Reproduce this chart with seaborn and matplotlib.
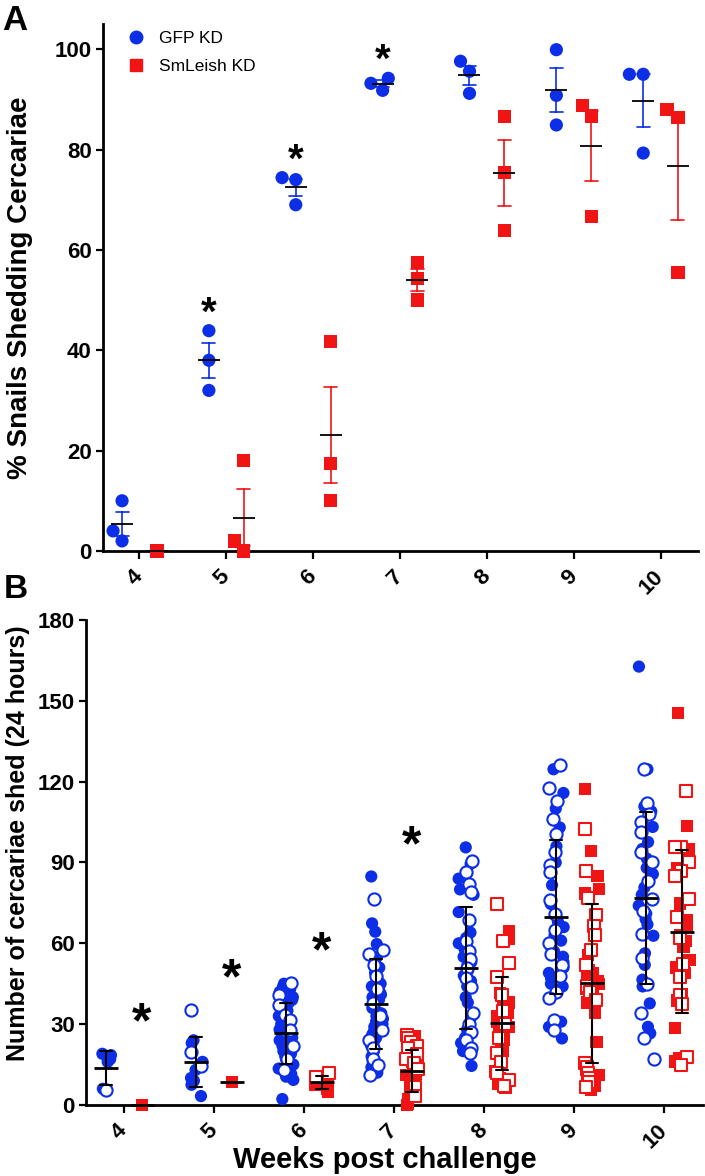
import numpy as np
import pandas as pd
import matplotlib
matplotlib.use("Agg")
import matplotlib.pyplot as plt
from matplotlib.lines import Line2D
import seaborn as sns

WEEKS = [4, 5, 6, 7, 8, 9, 10]
GROUPS = ["GFP KD", "SmLeish KD"]
COLORS = {"GFP KD": "#0b2ee6", "SmLeish KD": "#f01414"}
MARKERS = {"GFP KD": "o", "SmLeish KD": "s"}

# --- panel A: % snails shedding cercariae (3 replicate tanks per week) ------
A_GFP = {4: [10.0, 4.0, 2.0], 5: [43.9, 38.0, 32.0], 6: [74.4, 74.0, 69.0],
         7: [94.2, 93.2, 91.8], 8: [97.6, 95.6, 91.2], 9: [99.9, 90.8, 84.9],
         10: [95.0, 95.0, 79.3]}
A_KD = {4: [0.0], 5: [18.0, 2.0, 0.0], 6: [41.7, 17.4, 10.1],
        7: [57.5, 54.3, 50.0], 8: [86.6, 75.4, 63.8], 9: [88.8, 86.7, 66.7],
        10: [88.0, 86.4, 55.5]}
A_STARS = [5, 6, 7]

# --- panel B: cercariae per snail (filled / open = two experiments) ---------
B_GFP_FILLED = {
    4: [19.0, 18.5, 17.0, 16.0, 6.0],
    5: [24.0, 23.0, 16.0, 13.0, 10.0, 9.0, 7.5, 3.3],
    6: [45, 44, 43, 42, 41, 40, 39, 38, 36, 35, 33, 32, 31, 30, 29, 28, 27, 26,
        25, 24, 23, 22, 21, 20, 19, 18, 17, 16, 15, 14, 13.5, 12.5, 11.5, 10.5,
        9.3, 2.2],
    7: [84.8, 67.4, 64.3, 59.7, 55, 53, 51, 49, 47, 45, 44, 42, 41, 40, 39, 38,
        37, 36, 35, 34, 33, 32, 31, 30, 29, 28, 27, 26, 25, 24, 22, 20, 18, 16,
        14, 12],
    8: [95.6, 89.5, 84, 80, 78, 71.6, 64, 62, 60, 58, 56, 55, 53, 52, 50, 48,
        46, 44, 40, 38, 33, 28, 26, 25, 23, 22, 20, 14.5],
    9: [124.6, 115.8, 110, 103, 96, 90, 81.6, 74.6, 68, 66, 63, 61, 59, 57, 55,
        53, 51, 49, 47, 45, 44, 30.9, 29, 24.7],
    10: [162.7, 124.6, 110.8, 109, 103.2, 97.6, 95, 91.4, 88, 85.7, 80.7, 78,
         74, 71, 69, 67, 62.8, 56.3, 52, 46.5, 44, 37.7, 29, 26.6],
}
B_GFP_OPEN = {
    4: [5.5],
    5: [35.3, 19.8, 14.5],
    6: [45.2, 41, 37, 33.4, 31.7, 28, 22, 17, 13],
    7: [76.4, 57.5, 56, 52, 48, 43, 38, 33, 28, 24, 21, 17, 15, 11],
    8: [90.7, 86.6, 82, 79, 68.5, 61, 57, 54, 51, 47, 43.8, 34, 30, 27, 24, 21,
        19.4],
    9: [126.2, 117.5, 113, 106.3, 100.5, 94, 89, 86.5, 76, 71, 65, 60, 56, 52,
        48, 42, 39.6, 31.5, 28],
    10: [124.6, 111.9, 108, 105.1, 101.3, 94, 90, 83.2, 76.4, 72, 63.4, 54.5,
         45, 34, 24.7, 16.9],
}
B_KD_FILLED = {
    4: [0.0],
    5: [8.4],
    6: [5.0, 5.8, 7.4, 8.5, 9.5],
    7: [25.5, 24, 22, 20, 18, 16, 15, 14, 13, 12, 11.5, 11, 10, 9.5, 9, 8, 7.5,
        7, 6, 5, 4, 3, 2, 1, 0.5, 0],
    8: [64.7, 61.5, 41.5, 38, 36, 34, 33, 32, 31, 30, 29, 28, 27, 26, 24, 22,
        20, 17, 12.4, 10, 8, 6.2],
    9: [117.3, 94.4, 85, 80.1, 78.5, 66.8, 55.7, 50, 49, 47.9, 46, 45, 43, 41.7,
        40, 38, 36, 34.3, 23.5, 13, 11, 9.5, 8, 7, 5.6],
    10: [145.6, 103.6, 95, 88, 76.4, 74.8, 68.6, 66, 63, 61, 58.7, 53.7, 51, 49,
         41.3, 38.8, 28.5, 17.3, 16.1],
}
B_KD_OPEN = {
    4: [],
    5: [],
    6: [12.0, 10.5],
    7: [26, 25, 23.5, 22, 21, 19, 17, 15.5, 13.5, 6.5, 3.5],
    8: [74.6, 61, 52.6, 47.4, 41, 35, 30, 25, 19.3, 16.1, 11.8, 9.3, 7],
    9: [102.4, 87, 77, 70.5, 66.4, 63, 57.5, 52, 44.1, 42, 39, 15.7, 14, 12, 10,
        8.5, 6.5],
    10: [116.6, 95.6, 95.6, 90, 86.9, 85, 76.4, 69.8, 62, 52.5, 47.5, 41, 37.5,
         17.8, 14.8],
}
B_STARS = [4, 5, 6, 7]


def long_a():
    rows = []
    for g, d in zip(GROUPS, (A_GFP, A_KD)):
        for wk in WEEKS:
            rows += [(wk, g, v) for v in d[wk]]
    return pd.DataFrame(rows, columns=["week", "group", "value"])


def long_b():
    rows = []
    for g, fd, od in zip(GROUPS, (B_GFP_FILLED, B_KD_FILLED), (B_GFP_OPEN, B_KD_OPEN)):
        for wk in WEEKS:
            rows += [(wk, g, float(v), True) for v in fd[wk]]
            rows += [(wk, g, float(v), False) for v in od[wk]]
    return pd.DataFrame(rows, columns=["week", "group", "value", "filled"])


def style_axes(ax, yticks, ylim):
    ax.set_ylim(*ylim)
    ax.set_yticks(yticks)
    ax.set_xlim(-0.42, 6.43)
    sns.despine(ax=ax)
    for s in ("left", "bottom"):
        ax.spines[s].set_linewidth(2.0)
        ax.spines[s].set_color("black")
    ax.tick_params(axis="both", width=1.6, length=5, labelsize=16, pad=3,
                   colors="black")
    ax.tick_params(axis="x", length=6, pad=10)
    ax.set_xticks(range(len(WEEKS)))
    ax.set_xticklabels([str(w) for w in WEEKS])
    for lbl in ax.get_xticklabels():
        lbl.set_rotation(45)
        lbl.set_ha("right")
        lbl.set_va("center")
        lbl.set_rotation_mode("anchor")
    ax.set_xlabel("")


sns.set_style("ticks")
plt.rcParams["font.family"] = ["Liberation Sans", "DejaVu Sans"]
plt.rcParams["font.weight"] = "bold"
plt.rcParams["axes.labelweight"] = "bold"
plt.rcParams["text.color"] = "black"
plt.rcParams["axes.labelcolor"] = "black"

fig = plt.figure(figsize=(7.05, 11.76), dpi=100)
axA = fig.add_axes([0.146, 0.5315, 0.844, 0.448])
axB = fig.add_axes([0.122, 0.0604, 0.875, 0.4124])

# ---------------- panel A ----------------
dfA = long_a()
for g in GROUPS:
    sns.swarmplot(data=dfA[dfA.group == g], x="week", y="value", hue="group",
                  order=WEEKS, hue_order=GROUPS, dodge=True, palette=COLORS,
                  marker=MARKERS[g], size=9.5, linewidth=0, legend=False,
                  clip_on=False, zorder=3, ax=axA)
sns.pointplot(data=dfA, x="week", y="value", hue="group", order=WEEKS,
              hue_order=GROUPS, dodge=0.4, errorbar="se", capsize=0.15,
              markers="", linestyles="none", palette=COLORS, linewidth=1.2,
              legend=False, zorder=4, ax=axA)
sns.pointplot(data=dfA, x="week", y="value", hue="group", order=WEEKS,
              hue_order=GROUPS, dodge=0.4, errorbar=None, markers="_",
              linestyles="none", palette={g: "black" for g in GROUPS},
              markersize=16, markeredgewidth=1.3, legend=False, zorder=5,
              clip_on=False, ax=axA)
style_axes(axA, [0, 20, 40, 60, 80, 100], (0, 105))
axA.set_ylabel("% Snails Shedding Cercariae", fontsize=20)
axA.yaxis.set_label_coords(-0.118, 0.5)
for wk in A_STARS:
    i = WEEKS.index(wk)
    axA.text(i - 0.2, max(A_GFP[wk]) + 3.4, "*", ha="center", va="center",
             fontsize=29, fontweight="bold")
handles = [Line2D([], [], marker=MARKERS[g], color=COLORS[g], linestyle="none",
                  markersize=9) for g in GROUPS]
axA.legend(handles, GROUPS, loc="upper left", bbox_to_anchor=(0.014, 1.0),
           frameon=False, prop={"size": 12.5, "weight": "normal"},
           handletextpad=0.35, labelspacing=0.75, borderaxespad=0)

# ---------------- panel B ----------------
dfB = long_b()
for filled in (True, False):
    for g in GROUPS:
        sub = dfB[(dfB.group == g) & (dfB.filled == filled)]
        n0 = len(axB.collections)
        sns.stripplot(data=sub, x="week", y="value", hue="group", order=WEEKS,
                      hue_order=GROUPS, dodge=True, jitter=0.17, palette=COLORS,
                      marker=MARKERS[g], size=8.8,
                      linewidth=0 if filled else 1.5, legend=False,
                      clip_on=False, zorder=3, ax=axB)
        if not filled:
            for c in axB.collections[n0:]:
                c.set_facecolor("white")
                c.set_edgecolor(COLORS[g])
sns.pointplot(data=dfB, x="week", y="value", hue="group", order=WEEKS,
              hue_order=GROUPS, dodge=0.4, errorbar="sd", capsize=0.14,
              markers="_", linestyles="none",
              palette={g: "black" for g in GROUPS}, markersize=17,
              markeredgewidth=2.0, linewidth=1.5, legend=False, zorder=5,
              clip_on=False, ax=axB)
style_axes(axB, [0, 30, 60, 90, 120, 150, 180], (0, 180))
axB.set_ylabel("Number of cercariae shed (24 hours)", fontsize=18)
axB.yaxis.set_label_coords(-0.09, 0.54)
axB.set_xlabel("Weeks post challenge", fontsize=21)
axB.xaxis.set_label_coords(0.485, -0.085)
for wk in B_STARS:
    i = WEEKS.index(wk)
    top = max(B_GFP_FILLED[wk] + B_GFP_OPEN[wk])
    axB.text(i + 0.2, top + 11, "*", ha="center", va="center",
             fontsize=36, fontweight="bold")

fig.text(0.003, 0.997, "A", fontsize=25, fontweight="bold", ha="left", va="top")
fig.text(0.006, 0.512, "B", fontsize=24, fontweight="bold", ha="left", va="top")

fig.savefig("out.png", dpi=100)
